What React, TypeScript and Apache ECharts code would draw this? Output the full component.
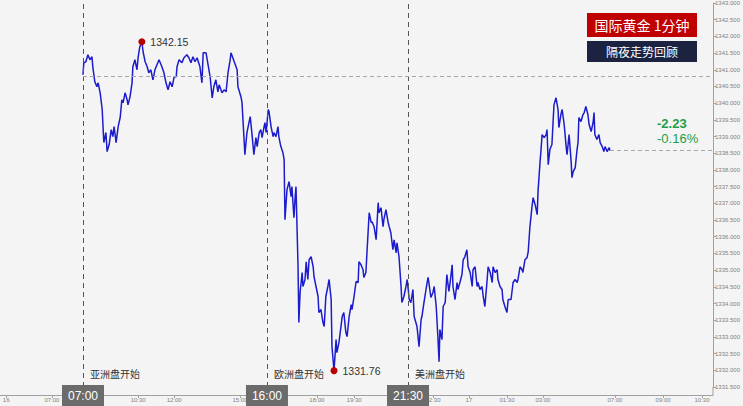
import React, { useEffect, useRef } from 'react';
import * as echarts from 'echarts';

// [minute index on the time axis, price]
const priceSeries: [number, number][] = [
  [496, 1340.85], [498, 1341.21], [503, 1341.24], [508, 1341.45], [513, 1341.30], [518, 1341.39],
  [520, 1341.09], [525, 1340.64], [530, 1340.49], [533, 1340.61], [538, 1340.31], [543, 1339.81],
  [545, 1339.30], [547, 1338.82], [552, 1339.12], [555, 1338.55], [560, 1338.76], [565, 1339.21],
  [569, 1339.00], [572, 1339.30], [577, 1338.82], [582, 1339.30], [587, 1339.57], [591, 1340.10],
  [594, 1340.01], [599, 1340.31], [604, 1340.10], [606, 1339.95], [611, 1340.19], [616, 1340.61],
  [618, 1341.09], [623, 1341.30], [628, 1341.00], [631, 1341.39], [635, 1341.69], [640, 1341.84],
  [643, 1341.54], [648, 1341.24], [653, 1341.09], [657, 1340.91], [662, 1341.00], [667, 1340.70],
  [672, 1341.00], [677, 1341.15], [682, 1341.30], [689, 1341.09], [694, 1340.91], [699, 1340.61],
  [704, 1340.40], [709, 1340.64], [714, 1340.49], [719, 1340.79], [724, 1340.79], [726, 1341.09],
  [731, 1341.30], [738, 1341.21], [743, 1341.36], [750, 1341.45], [755, 1341.36], [760, 1341.21],
  [765, 1341.39], [770, 1341.24], [775, 1341.36], [782, 1341.09], [787, 1340.61], [790, 1341.51],
  [797, 1341.51], [802, 1341.15], [807, 1340.79], [812, 1340.16], [816, 1340.49], [821, 1340.70],
  [826, 1340.34], [829, 1340.55], [836, 1340.31], [841, 1340.40], [846, 1340.34], [851, 1340.94],
  [856, 1341.30], [858, 1341.51], [873, 1341.00], [875, 1340.49], [883, 1340.16], [885, 1340.01],
  [892, 1338.46], [897, 1339.12], [902, 1339.42], [905, 1339.60], [909, 1339.12], [914, 1338.46],
  [919, 1338.97], [922, 1338.70], [927, 1339.12], [931, 1339.21], [934, 1338.97], [939, 1339.30],
  [941, 1339.42], [944, 1339.12], [949, 1339.81], [951, 1339.75], [956, 1339.30], [961, 1339.00],
  [963, 1339.12], [968, 1339.00], [973, 1339.30], [975, 1339.00], [980, 1338.70], [985, 1338.52],
  [988, 1338.31], [990, 1336.51], [995, 1337.41], [1000, 1337.65], [1005, 1337.20], [1007, 1337.50],
  [1012, 1336.57], [1015, 1337.20], [1017, 1337.50], [1022, 1335.10], [1024, 1333.43], [1027, 1334.33],
  [1032, 1334.93], [1034, 1334.51], [1039, 1334.72], [1042, 1335.25], [1046, 1334.72], [1049, 1335.31],
  [1054, 1335.40], [1059, 1335.10], [1061, 1334.81], [1066, 1334.51], [1071, 1334.21], [1073, 1333.73],
  [1078, 1333.82], [1083, 1333.43], [1086, 1333.31], [1090, 1334.21], [1095, 1334.51], [1098, 1334.72],
  [1103, 1334.12], [1105, 1332.71], [1110, 1331.99], [1115, 1332.92], [1117, 1332.53], [1122, 1332.83],
  [1127, 1333.31], [1130, 1333.61], [1134, 1333.73], [1139, 1333.13], [1142, 1333.01], [1147, 1333.61],
  [1152, 1333.97], [1154, 1333.82], [1159, 1334.21], [1164, 1334.66], [1169, 1334.63], [1171, 1335.25],
  [1176, 1335.16], [1181, 1335.01], [1183, 1334.78], [1188, 1334.93], [1191, 1335.61], [1196, 1336.72],
  [1201, 1336.42], [1203, 1336.45], [1208, 1336.30], [1213, 1335.91], [1218, 1337.02], [1220, 1336.72],
  [1225, 1336.87], [1230, 1336.30], [1232, 1336.51], [1237, 1336.81], [1242, 1336.45], [1245, 1336.30],
  [1249, 1336.12], [1254, 1335.61], [1257, 1335.91], [1262, 1335.52], [1264, 1335.82], [1269, 1335.40],
  [1274, 1334.51], [1276, 1334.03], [1281, 1334.21], [1286, 1334.51], [1289, 1334.72], [1294, 1334.12],
  [1298, 1334.03], [1303, 1334.42], [1306, 1333.61], [1313, 1333.31], [1318, 1332.71], [1323, 1333.52],
  [1325, 1333.61], [1330, 1334.03], [1335, 1334.42], [1340, 1334.78], [1342, 1334.63], [1347, 1334.18],
  [1352, 1334.33], [1355, 1334.51], [1360, 1333.91], [1364, 1333.01], [1367, 1332.26], [1369, 1333.22],
  [1374, 1332.92], [1377, 1333.91], [1382, 1334.03], [1386, 1334.87], [1391, 1334.36], [1394, 1334.63],
  [1399, 1335.16], [1401, 1334.51], [1406, 1334.12], [1411, 1334.63], [1413, 1334.42], [1418, 1334.63],
  [1423, 1334.87], [1426, 1335.31], [1430, 1335.40], [1435, 1335.61], [1438, 1335.10], [1443, 1334.93],
  [1448, 1334.51], [1450, 1335.01], [1455, 1335.10], [1460, 1334.51], [1462, 1334.63], [1467, 1334.42],
  [1472, 1334.51], [1475, 1334.21], [1479, 1333.91], [1484, 1334.63], [1487, 1335.10], [1492, 1334.93],
  [1497, 1334.63], [1499, 1335.10], [1504, 1334.93], [1509, 1335.01], [1511, 1334.72], [1516, 1334.51],
  [1521, 1334.42], [1523, 1334.12], [1528, 1333.91], [1533, 1333.73], [1536, 1334.12], [1543, 1334.12],
  [1548, 1334.63], [1553, 1334.72], [1558, 1334.63], [1560, 1334.72], [1565, 1335.10], [1570, 1335.01],
  [1572, 1334.93], [1577, 1335.31], [1582, 1335.37], [1585, 1335.55], [1589, 1336.27], [1594, 1336.87],
  [1597, 1337.17], [1602, 1336.96], [1607, 1336.66], [1609, 1337.35], [1614, 1338.25], [1616, 1338.55],
  [1619, 1339.06], [1624, 1338.97], [1629, 1339.06], [1631, 1339.21], [1634, 1338.16], [1638, 1338.61],
  [1643, 1338.76], [1648, 1339.95], [1653, 1340.16], [1658, 1339.81], [1660, 1339.27], [1665, 1339.66],
  [1668, 1339.81], [1673, 1339.36], [1678, 1338.67], [1680, 1338.46], [1685, 1339.06], [1690, 1338.25],
  [1692, 1337.77], [1695, 1337.95], [1700, 1338.07], [1704, 1338.55], [1707, 1338.85], [1709, 1339.57],
  [1714, 1339.45], [1719, 1339.66], [1722, 1339.72], [1726, 1339.90], [1731, 1339.66], [1734, 1339.36],
  [1739, 1339.15], [1744, 1339.45], [1746, 1339.72], [1748, 1339.06], [1753, 1338.91], [1758, 1339.06],
  [1761, 1338.82], [1766, 1338.70], [1770, 1338.55], [1773, 1338.70], [1778, 1338.55], [1783, 1338.67],
  [1785, 1338.58],
];

const xMin = 293;
const xMax = 2037;
const xTickMinutes = [308, 420, 631, 719, 880, 1068, 1159, 1352, 1440, 1533, 1621, 1797, 1915, 2010];
const xTickLabels = ['16', '07:00', '10:30', '12:00', '15:00', '18:00', '19:30', '22:30', '17', '01:30', '03:00', '07:00', '09:00', '10:30'];

const yMin = 1331.5;
const yMax = 1343;
const yInterval = 0.5;

const sessionMinutes = [496, 946, 1291];
const sessionTimes = ['07:00', '16:00', '21:30'];
const sessionNames = ['亚洲盘开始', '欧洲盘开始', '美洲盘开始'];

const highPoint: [number, number] = [640, 1341.84];
const highLabel = '1342.15';
const lowPoint: [number, number] = [1110, 1331.99];
const lowLabel = '1331.76';

const refPrice = 1340.81;
const changeText = '-2.23';
const changePctText = '-0.16%';
const titleText = '国际黄金 1分钟';
const subtitleText = '隔夜走势回顾';

const CJK = '"Noto Sans CJK SC", "Noto Sans", sans-serif';

export default function App() {
  const ref = useRef<HTMLDivElement>(null);

  useEffect(() => {
    document.body.style.margin = '0';
    if (!ref.current) return;
    const chart = echarts.init(ref.current, null, { renderer: 'svg' });
    const last = priceSeries[priceSeries.length - 1];

    chart.setOption({
      animation: false,
      backgroundColor: '#f4f4f4',
      textStyle: { fontFamily: 'Arial, "Liberation Sans", sans-serif' },
      grid: { left: 0, right: 30, top: 3, bottom: 19, containLabel: false, outerBoundsMode: 'none' },
      xAxis: {
        type: 'value',
        min: xMin,
        max: xMax,
        offset: 8,
        axisLine: { show: true, lineStyle: { color: '#a0a0a0', width: 1 } },
        axisTick: { show: true, length: 3, customValues: xTickMinutes, lineStyle: { color: '#a0a0a0' } },
        axisLabel: {
          customValues: xTickMinutes,
          formatter: (v: number) => {
            const i = xTickMinutes.indexOf(Math.round(v));
            return i >= 0 ? xTickLabels[i] : '';
          },
          fontSize: 6,
          color: '#808080',
          margin: 2,
        },
        splitLine: { show: false },
      },
      yAxis: {
        type: 'value',
        position: 'right',
        min: yMin,
        max: yMax,
        interval: yInterval,
        axisLine: { show: true, lineStyle: { color: '#a0a0a0', width: 1 } },
        axisTick: { show: true, length: 3, lineStyle: { color: '#a0a0a0' } },
        axisLabel: {
          formatter: (v: number) => v.toFixed(3),
          fontSize: 6,
          color: '#808080',
          margin: 2,
        },
        splitLine: { show: false },
      },
      series: [
        {
          type: 'line',
          data: priceSeries,
          symbol: 'none',
          showSymbol: false,
          lineStyle: { color: '#1c1ccc', width: 1.5 },
          z: 3,
          markLine: {
            silent: true,
            symbol: ['none', 'none'],
            label: { show: false },
            data: [
              ...sessionMinutes.map((m) => ({
                xAxis: m,
                lineStyle: { color: '#555555', type: [5, 4], width: 1 },
              })),
              [
                { coord: [priceSeries[0][0], refPrice], lineStyle: { color: '#a8a8a8', type: [4, 3], width: 1 } },
                { coord: [xMax, refPrice] },
              ],
              [
                { coord: [last[0], last[1]], lineStyle: { color: '#a8a8a8', type: [4, 3], width: 1 } },
                { coord: [xMax, last[1]] },
              ],
            ],
          },
          markPoint: {
            silent: true,
            symbol: 'circle',
            symbolSize: 7,
            itemStyle: { color: '#b80000' },
            label: { show: true, position: 'right', distance: 5, color: '#333333', fontSize: 10.5 },
            data: [
              { coord: highPoint, label: { formatter: highLabel } },
              { coord: lowPoint, label: { formatter: lowLabel } },
            ],
          },
        },
      ],
    });

    const axisRight = chart.convertToPixel({ xAxisIndex: 0 }, xMax) as number;
    const gridBottom = chart.convertToPixel({ yAxisIndex: 0 }, yMin) as number;

    const graphics: any[] = [
      {
        type: 'line',
        shape: { x1: axisRight, y1: gridBottom, x2: axisRight, y2: gridBottom + 8 },
        style: { stroke: '#a0a0a0', lineWidth: 1 },
        z: 5,
      },
    ];

    sessionMinutes.forEach((m, i) => {
      const px = chart.convertToPixel({ xAxisIndex: 0 }, m) as number;
      graphics.push(
        {
          type: 'rect',
          shape: { x: px - 21, y: 385, width: 42, height: 21 },
          style: { fill: '#6b6b6b' },
          z: 20,
        },
        {
          type: 'text',
          x: px,
          y: 395.5,
          style: {
            text: sessionTimes[i],
            fill: '#ffffff',
            fontSize: 12,
            fontFamily: 'Arial, "Liberation Sans", sans-serif',
            align: 'center',
            verticalAlign: 'middle',
          },
          z: 21,
        },
        {
          type: 'text',
          x: px + 7,
          y: 373,
          style: {
            text: sessionNames[i],
            fill: '#333333',
            fontSize: 10,
            fontFamily: CJK,
            align: 'left',
            verticalAlign: 'middle',
          },
          z: 21,
        }
      );
    });

    graphics.push(
      {
        type: 'rect',
        shape: { x: 587, y: 13, width: 110, height: 24 },
        style: { fill: '#c00000' },
        z: 20,
      },
      {
        type: 'text',
        x: 642,
        y: 25,
        style: {
          text: titleText,
          fill: '#ffffff',
          fontSize: 14,
          fontFamily: CJK,
          align: 'center',
          verticalAlign: 'middle',
        },
        z: 21,
      },
      {
        type: 'rect',
        shape: { x: 587, y: 41, width: 110, height: 21 },
        style: { fill: '#1b2341' },
        z: 20,
      },
      {
        type: 'text',
        x: 642,
        y: 51.5,
        style: {
          text: subtitleText,
          fill: '#ffffff',
          fontSize: 12,
          fontFamily: CJK,
          align: 'center',
          verticalAlign: 'middle',
        },
        z: 21,
      },
      {
        type: 'text',
        x: 657,
        y: 123,
        style: {
          text: changeText,
          fill: '#1e9e4a',
          fontSize: 13,
          fontWeight: 'bold',
          fontFamily: 'Arial, "Liberation Sans", sans-serif',
          align: 'left',
          verticalAlign: 'middle',
        },
        z: 21,
      },
      {
        type: 'text',
        x: 657,
        y: 138.5,
        style: {
          text: changePctText,
          fill: '#1e9e4a',
          fontSize: 13,
          fontFamily: 'Arial, "Liberation Sans", sans-serif',
          align: 'left',
          verticalAlign: 'middle',
        },
        z: 21,
      }
    );

    chart.setOption({ graphic: graphics });

    return () => {
      chart.dispose();
    };
  }, []);

  return <div ref={ref} style={{ width: 743, height: 406 }} />;
}
